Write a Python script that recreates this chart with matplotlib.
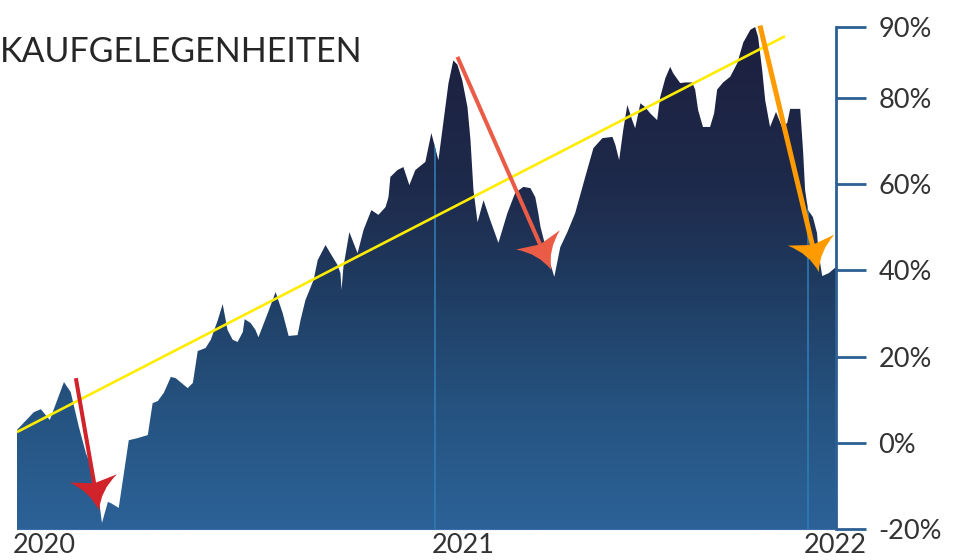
import numpy as np
import matplotlib
matplotlib.use('Agg')
import matplotlib.pyplot as plt
from matplotlib.colors import LinearSegmentedColormap
from matplotlib.path import Path
from matplotlib.patches import PathPatch, Polygon
from matplotlib.lines import Line2D
from matplotlib.transforms import IdentityTransform, ScaledTranslation

plt.rcParams['font.family'] = ['Lato', 'DejaVu Sans']

TITLE = 'KAUFGELEGENHEITEN'

# Zeitachse als Dezimaljahr, Wert in %
dates = [
    2019.877, 2019.922, 2019.941, 2019.965, 2020.003, 2020.021, 2020.043, 2020.062,
    2020.080, 2020.097, 2020.105, 2020.121, 2020.129, 2020.150, 2020.177, 2020.201,
    2020.228, 2020.241, 2020.255, 2020.271, 2020.290, 2020.303, 2020.335, 2020.349,
    2020.362, 2020.383, 2020.397, 2020.416, 2020.429, 2020.442, 2020.456, 2020.469,
    2020.483, 2020.488, 2020.504, 2020.517, 2020.525, 2020.550, 2020.571, 2020.590,
    2020.606, 2020.630, 2020.638, 2020.651, 2020.673, 2020.684, 2020.705, 2020.718,
    2020.737, 2020.745, 2020.748, 2020.753, 2020.769, 2020.791, 2020.807, 2020.828,
    2020.847, 2020.866, 2020.874, 2020.879, 2020.898, 2020.914, 2020.930, 2020.946,
    2020.973, 2020.989, 2021.008, 2021.021, 2021.035, 2021.048, 2021.059, 2021.072,
    2021.086, 2021.094, 2021.102, 2021.113, 2021.129, 2021.147, 2021.169, 2021.193,
    2021.214, 2021.236, 2021.255, 2021.268, 2021.276, 2021.282, 2021.300, 2021.319,
    2021.335, 2021.354, 2021.375, 2021.402, 2021.424, 2021.448, 2021.475, 2021.483,
    2021.493, 2021.504, 2021.515, 2021.528, 2021.536, 2021.550, 2021.563, 2021.576,
    2021.595, 2021.603, 2021.617, 2021.630, 2021.638, 2021.657, 2021.670, 2021.689,
    2021.697, 2021.705, 2021.718, 2021.737, 2021.748, 2021.756, 2021.772, 2021.791,
    2021.810, 2021.826, 2021.845, 2021.858, 2021.866, 2021.877, 2021.885, 2021.898,
    2021.914, 2021.930, 2021.944, 2021.952, 2021.979, 2021.987, 2021.992, 2022.000,
    2022.013, 2022.024, 2022.029, 2022.038, 2022.056, 2022.075,
]
values = [
    3.0, 7.1, 7.8, 5.3, 14.1, 11.8, 3.7, -2.4,
    -6.3, -13.3, -18.6, -13.7, -14.0, -15.1, 0.6, 1.1,
    1.8, 9.2, 9.7, 11.6, 15.3, 15.0, 12.7, 13.9,
    21.3, 22.0, 23.9, 28.5, 32.2, 26.2, 23.9, 23.4,
    25.7, 28.7, 27.8, 26.2, 24.5, 30.1, 35.0, 30.1,
    24.8, 25.0, 28.5, 33.1, 37.8, 42.4, 45.9, 44.0,
    41.3, 39.4, 35.5, 40.8, 48.9, 44.0, 49.4, 54.0,
    52.9, 54.7, 57.0, 61.7, 63.3, 64.0, 59.8, 63.3,
    65.2, 71.9, 65.6, 74.2, 82.1, 85.3, 84.7, 82.5,
    77.9, 70.3, 58.7, 51.2, 56.3, 51.7, 46.4, 53.3,
    58.0, 59.4, 59.1, 57.0, 53.3, 50.1, 44.0, 38.5,
    45.4, 48.9, 53.3, 61.7, 68.4, 70.7, 71.0, 69.1,
    65.6, 72.6, 78.4, 74.9, 73.0, 78.8, 77.9, 76.5,
    74.9, 80.1, 82.8, 84.4, 83.5, 82.1, 82.2, 82.2,
    81.2, 77.2, 73.3, 73.3, 76.5, 81.2, 82.2, 83.0,
    84.9, 87.8, 89.6, 90.0, 88.6, 83.9, 79.5, 73.3,
    76.8, 73.3, 74.2, 77.5, 77.5, 67.2, 58.7, 54.0,
    52.4, 48.7, 43.6, 38.7, 39.4, 40.8,
]

xtick_pos = [dates[0], 2021.0, 2022.0]
xtick_labels = ['2020', '2021', '2022']
ytick_pos = [-20, 0, 20, 40, 60, 80, 90]
ytick_labels = ['-20%', '0%', '20%', '40%', '60%', '80%', '90%']

# Trendlinie (Anfang, Ende)
trend_x = [2019.877, 2021.938]
trend_y = [2.5, 88.7]

# Pfeile: Start und Spitze
arrow_start = [(2020.035, 15.0), (2021.059, 85.8), (2021.871, 90.2)]
arrow_tip = [(2020.097, -15.8), (2021.311, 40.1), (2022.029, 39.6)]
arrow_colors = ['#d0232a', '#eb5c47', '#ff9a00']
arrow_widths = [2.9, 2.9, 3.6]


# die Achse ist oberhalb von 80% gestaucht (90% sitzt fast so hoch wie 96%)
def fwd(v):
    v = np.asarray(v, dtype=float)
    return np.where(v > 80, 80 + (v - 80) * 1.65, v)


def inv(w):
    w = np.asarray(w, dtype=float)
    return np.where(w > 80, 80 + (w - 80) / 1.65, w)


fig = plt.figure(figsize=(9.55, 5.6), dpi=100)
ax = fig.add_axes([17 / 955, 31 / 560, 819 / 955, 502 / 560])
ax.set_yscale('function', functions=(fwd, inv))

area = Polygon([(dates[0], -20)] + list(zip(dates, values)) + [(dates[-1], -20)],
               closed=True, facecolor='none', edgecolor='none')
ax.add_patch(area)

cmap = LinearSegmentedColormap.from_list('area', [
    (0.0, '#2c6298'), (0.25, '#25527f'), (0.5, '#1f3a5f'),
    (0.68, '#1e2a4b'), (1.0, '#1d1f3e')])
grad = np.linspace(0, 1, 256).reshape(-1, 1)
im = ax.imshow(grad, extent=[0, 1, 0, 1], transform=ax.transAxes, origin='lower',
               aspect='auto', cmap=cmap, zorder=1, interpolation='bilinear')
im.set_clip_path(area)

vl = ax.vlines([2021.0, 2022.0], -20, 90, colors='#2f7ab3', lw=1.2, zorder=2)
vl.set_clip_path(area)

ax.plot(trend_x, trend_y, color='#ffec00', lw=1.9, zorder=3, solid_capstyle='butt')

ax.set_xlim(dates[0], dates[-1])
ax.set_ylim(-20, 90)

for s in ['top', 'left']:
    ax.spines[s].set_visible(False)
ax.spines['right'].set_color('#2e5f94')
ax.spines['right'].set_linewidth(2)
ax.spines['bottom'].set_color('#3b70a8')
ax.spines['bottom'].set_linewidth(0.8)

ax.yaxis.tick_right()
ax.set_yticks(ytick_pos)
ax.set_yticklabels(ytick_labels)
ax.yaxis.set_minor_locator(matplotlib.ticker.NullLocator())
ax.tick_params(axis='y', length=21.6, width=2, color='#2e5f94', pad=9,
               labelsize=19.5, labelcolor='#333333')
ax.set_xticks(xtick_pos)
ax.set_xticklabels(xtick_labels)
ax.tick_params(axis='x', length=0, pad=3, labelsize=19.5, labelcolor='#333333')
shift = ScaledTranslation(-4 / 100, 0, fig.dpi_scale_trans)
for lab in ax.get_xticklabels():
    lab.set_ha('left')
    lab.set_transform(lab.get_transform() + shift)

fig.text(0.0, 1 - 62 / 560, TITLE, fontsize=24.5, color='#262626',
         ha='left', va='baseline')

# Pfeile mit geschwungener Spitze, in Pixeln gezeichnet
for start, tip, col, w in zip(arrow_start, arrow_tip, arrow_colors, arrow_widths):
    p0 = ax.transData.transform(start)
    p1 = ax.transData.transform(tip)
    d = (p1 - p0) / np.hypot(*(p1 - p0))
    n = np.array([-d[1], d[0]])

    def pt(u, v):
        return p1 + u * d + v * n

    fig.add_artist(Line2D([p0[0], pt(-22, 0)[0]], [p0[1], pt(-22, 0)[1]], color=col,
                          lw=w, solid_capstyle='butt', transform=IdentityTransform(),
                          zorder=5))
    verts = [pt(0, 0), pt(-20, -5), pt(-33, -24), pt(-28, 0), pt(-33, 24),
             pt(-20, 5), pt(0, 0), pt(0, 0)]
    codes = [Path.MOVETO, Path.CURVE3, Path.CURVE3, Path.LINETO, Path.LINETO,
             Path.CURVE3, Path.CURVE3, Path.CLOSEPOLY]
    fig.add_artist(PathPatch(Path(verts, codes), facecolor=col, edgecolor='none',
                             transform=IdentityTransform(), zorder=6))

fig.savefig('out.png', dpi=100, facecolor='white')
